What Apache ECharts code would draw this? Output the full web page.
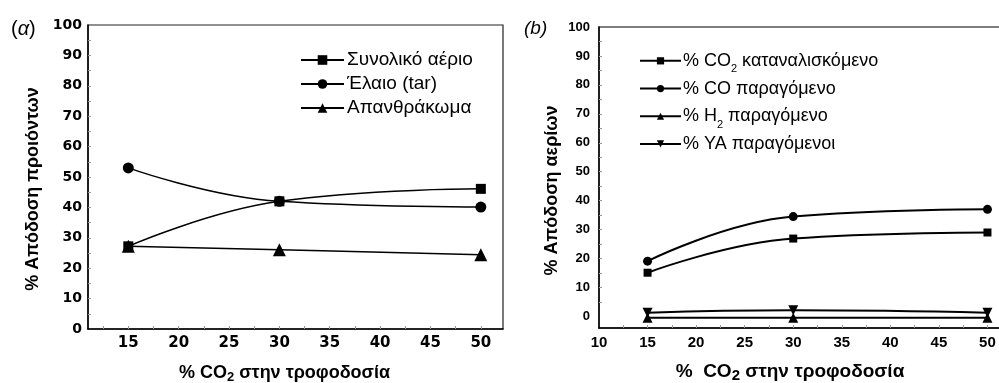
<!DOCTYPE html>
<html>
<head>
<meta charset="utf-8">
<script src="https://cdn.jsdelivr.net/npm/echarts@6/dist/echarts.min.js"></script>
<style>
  html, body { margin: 0; padding: 0; background: #fff; }
  #main { width: 999px; height: 383px; }
</style>
</head>
<body>
<div id="main"></div>
<script>
// x positions (% CO2 in feed), shared by both panels
const feedCO2 = [15, 30, 50];

// panel (a): product yields
const namesA = ['Συνολικό αέριο', 'Έλαιο (tar)', 'Απανθράκωμα'];
const totalGas = [27.2, 42.0, 46.1];
const tarOil = [53.0, 42.0, 40.1];
const charYield = [27.2, 26.1, 24.4];

// panel (b): gas yields
const namesB = ['% CO2 καταναλισκόμενο', '% CO παραγόμενο', '% H2 παραγόμενο', '% ΥΑ παραγόμενοι'];
const co2Consumed = [15.1, 26.9, 29.0];
const coProduced = [19.1, 34.5, 37.0];
const h2Produced = [-0.5, -0.5, -0.5];
const hcProduced = [1.3, 2.1, 1.3];

// tick labels
const yTicks = [0, 10, 20, 30, 40, 50, 60, 70, 80, 90, 100];
const xTicksA = [15, 20, 25, 30, 35, 40, 45, 50];
const xTicksB = [10, 15, 20, 25, 30, 35, 40, 45, 50];
const xMinor = [12.5, 15, 17.5, 20, 22.5, 25, 27.5, 30, 32.5, 35, 37.5, 40, 42.5, 45, 47.5, 50];
const yMinor = [5, 10, 15, 20, 25, 30, 35, 40, 45, 50, 55, 60, 65, 70, 75, 80, 85, 90, 95];

const pairs = ys => feedCO2.map((x, i) => [x, ys[i]]);
const downTri = 'path://M0,0L10,0L5,9Z';

const chart = echarts.init(document.getElementById('main'), null, { renderer: 'canvas' });

const subName = n => n.replace('CO2', 'CO{sub|2}').replace('H2', 'H{sub|2}');

function lineSeries(name, idx, ys, symbol, size) {
  return {
    name: name,
    type: 'line',
    xAxisIndex: idx,
    yAxisIndex: idx,
    data: pairs(ys),
    smooth: 0.45,
    symbol: symbol,
    symbolSize: size,
    lineStyle: { color: '#000', width: idx === 0 ? 1.5 : 2 },
    itemStyle: { color: '#000' },
    z: 3
  };
}

const option = {
  animation: false,
  backgroundColor: '#fff',
  textStyle: { fontFamily: 'Liberation Sans, Arial, sans-serif' },
  title: [
    {
      text: '({i|α})', left: 6, top: 14,
      textStyle: { fontSize: 20, fontWeight: 'normal', color: '#000',
        rich: { i: { fontSize: 20, fontStyle: 'italic', color: '#000' } } }
    },
    {
      text: '(b)', left: 519, top: 14,
      textStyle: { fontSize: 19, fontWeight: 'normal', fontStyle: 'italic', color: '#000' }
    }
  ],
  legend: [
    {
      data: namesA,
      orient: 'vertical',
      left: 295, top: 43,
      itemWidth: 43, itemHeight: 12,
      itemGap: 0,
      textStyle: { fontSize: 19, color: '#000', lineHeight: 24, padding: [0, 0, 0, -2] }
    },
    {
      data: namesB,
      orient: 'vertical',
      left: 634, top: 42,
      itemWidth: 41, itemHeight: 9,
      itemGap: 0,
      formatter: subName,
      textStyle: { fontSize: 18, color: '#000', lineHeight: 27.7, padding: [0, 0, 0, -3],
        rich: { sub: { fontSize: 11, lineHeight: 11, verticalAlign: 'bottom', color: '#000' } } }
    }
  ],
  grid: [
    { left: 88, top: 25, width: 415, height: 304, outerBoundsMode: 'none', containLabel: false,
      show: true, borderColor: '#222', borderWidth: 1.2 },
    { left: 599, top: 27, width: 404, height: 301, outerBoundsMode: 'none', containLabel: false,
      show: true, borderColor: '#555', borderWidth: 1.5 }
  ],
  xAxis: [
    {
      type: 'value', gridIndex: 0, min: 11, max: 52.2,
      splitLine: { show: false },
      axisLine: { show: true, onZero: false, lineStyle: { color: '#000', width: 1.5 } },
      axisTick: { show: true, inside: true, length: 3, customValues: xMinor, lineStyle: { color: '#999' } },
      axisLabel: { customValues: xTicksA, margin: 7, fontSize: 15, fontWeight: 'bold', color: '#000',
        fontFamily: 'DejaVu Sans' },
      name: '% CO{sub|2} στην τροφοδοσία',
      nameLocation: 'middle', nameGap: 33,
      nameTextStyle: { fontSize: 18, fontWeight: 'bold', color: '#000', lineHeight: 22, padding: [0, 22, 0, 0],
        rich: { sub: { fontSize: 13, fontWeight: 'bold', lineHeight: 13, verticalAlign: 'bottom', color: '#000' } } }
    },
    {
      type: 'value', gridIndex: 1, min: 10, max: 51.6,
      splitLine: { show: false },
      axisLine: { show: true, onZero: false, lineStyle: { color: '#000', width: 1.5 } },
      axisTick: { show: true, inside: true, length: 3, customValues: xMinor, lineStyle: { color: '#999' } },
      axisLabel: { customValues: xTicksB, margin: 7, fontSize: 15, fontWeight: 'bold', color: '#000' },
      name: '%  CO{sub|2} στην τροφοδοσία',
      nameLocation: 'middle', nameGap: 33,
      nameTextStyle: { fontSize: 19, fontWeight: 'bold', color: '#000', lineHeight: 22, padding: [0, 22, 0, 0],
        rich: { sub: { fontSize: 15, fontWeight: 'bold', lineHeight: 14, verticalAlign: 'bottom', color: '#000' } } }
    }
  ],
  yAxis: [
    {
      type: 'value', gridIndex: 0, min: 0, max: 100,
      splitLine: { show: false },
      axisLine: { show: true, onZero: false, lineStyle: { color: '#000', width: 1.5 } },
      axisTick: { show: true, inside: true, length: 3, customValues: yMinor, lineStyle: { color: '#999' } },
      axisLabel: { customValues: yTicks, margin: 6, fontSize: 14, fontWeight: 'bold', color: '#000',
        fontFamily: 'DejaVu Sans' },
      name: '% Απόδοση προιόντων',
      nameLocation: 'middle', nameGap: 46, nameRotate: 90,
      nameTextStyle: { fontSize: 18, fontWeight: 'bold', color: '#000', padding: [0, 24, 0, 0] }
    },
    {
      type: 'value', gridIndex: 1, min: -4, max: 100,
      splitLine: { show: false },
      axisLine: { show: true, onZero: false, lineStyle: { color: '#000', width: 1.5 } },
      axisTick: { show: true, inside: true, length: 3, customValues: yMinor, lineStyle: { color: '#999' } },
      axisLabel: { customValues: yTicks, margin: 9, fontSize: 13, fontWeight: 'bold', color: '#000' },
      name: '% Απόδοση αερίων',
      nameLocation: 'middle', nameGap: 38, nameRotate: 90,
      nameTextStyle: { fontSize: 18, fontWeight: 'bold', color: '#000', padding: [0, 26, 0, 0] }
    }
  ],
  series: [
    lineSeries(namesA[0], 0, totalGas, 'rect', 10),
    lineSeries(namesA[1], 0, tarOil, 'circle', 11),
    lineSeries(namesA[2], 0, charYield, 'triangle', 13),
    lineSeries(namesB[0], 1, co2Consumed, 'rect', 8),
    lineSeries(namesB[1], 1, coProduced, 'circle', 9),
    lineSeries(namesB[2], 1, h2Produced, 'triangle', 10),
    lineSeries(namesB[3], 1, hcProduced, downTri, 10)
  ]
};

chart.setOption(option);
</script>
</body>
</html>
